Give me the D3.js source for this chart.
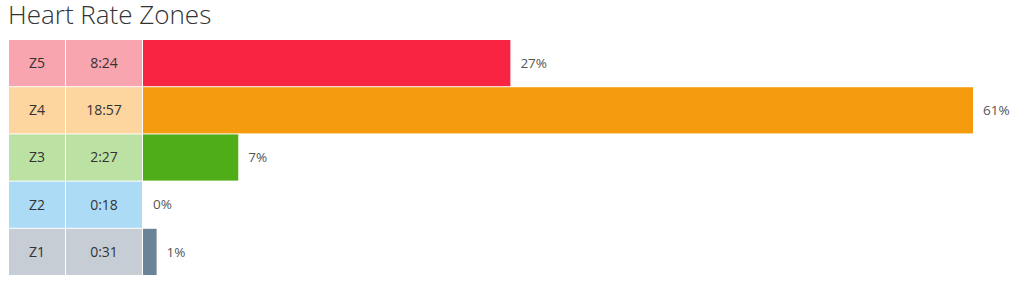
<!DOCTYPE html>
<html>
<head>
<meta charset="utf-8">
<script src="https://cdn.jsdelivr.net/npm/d3@7"></script>
<style>
  body { margin: 0; background: #fff; }
  svg { display: block; font-family: "Open Sans", sans-serif; }
</style>
</head>
<body>
<svg id="chart" width="1018" height="283"></svg>
<script>
var zones    = ['Z5', 'Z4', 'Z3', 'Z2', 'Z1'];
var times    = ['8:24', '18:57', '2:27', '0:18', '0:31'];
var percents = [27, 61, 7, 0, 1];
var barColors  = ['#f72442', '#f59c0e', '#4fae17', '#5fb8ea', '#6b8397'];
var cellColors = ['#f9a5af', '#fcd59f', '#bce2a3', '#acdbf6', '#c6cdd4'];

var
  svg = d3.select('#chart'),
  top0 = 40,
  zoneX = 9, zoneW = 56,
  timeX = 66, timeW = 76,
  barX0 = 143, barX1 = 973
  ;

var rows = zones.map((z, i) => ({zone: z, time: times[i], pct: percents[i], bar: barColors[i], cell: cellColors[i]}));

var yScale = d3.scaleBand()
  .domain(zones)
  .range([top0, top0 + 47 * zones.length])
  .paddingInner(1 / 47)
  .paddingOuter(0);

var xScale = d3.scaleLinear()
  .domain([0, d3.max(percents)])
  .range([barX0, barX1]);

svg.append('text')
  .attr('x', 8)
  .attr('y', 24)
  .style('font-size', '26px')
  .style('font-weight', 300)
  .style('fill', '#333')
  .text('Heart Rate Zones');

var g = svg.selectAll('.row')
  .data(rows)
  .enter().append('g')
  .attr('class', 'row')
  .attr('transform', d => 'translate(0,' + yScale(d.zone) + ')');

var h = yScale.bandwidth();

g.append('rect')
  .attr('x', zoneX).attr('width', zoneW)
  .attr('height', h)
  .style('fill', d => d.cell);

g.append('rect')
  .attr('x', timeX).attr('width', timeW)
  .attr('height', h)
  .style('fill', d => d.cell);

g.append('rect')
  .attr('x', xScale(0))
  .attr('width', d => xScale(d.pct) - xScale(0))
  .attr('height', h)
  .style('fill', d => d.bar);

g.append('text')
  .attr('x', zoneX + zoneW / 2)
  .attr('y', h / 2)
  .attr('dy', '0.35em')
  .attr('text-anchor', 'middle')
  .style('font-size', '14px')
  .style('fill', '#333')
  .text(d => d.zone);

g.append('text')
  .attr('x', timeX + timeW / 2)
  .attr('y', h / 2)
  .attr('dy', '0.35em')
  .attr('text-anchor', 'middle')
  .style('font-size', '14px')
  .style('fill', '#333')
  .text(d => d.time);

g.append('text')
  .attr('x', d => xScale(d.pct) + 10)
  .attr('y', h / 2)
  .attr('dy', '0.35em')
  .style('font-size', '13.5px')
  .style('fill', '#555')
  .text(d => d.pct + '%');
</script>
</body>
</html>
